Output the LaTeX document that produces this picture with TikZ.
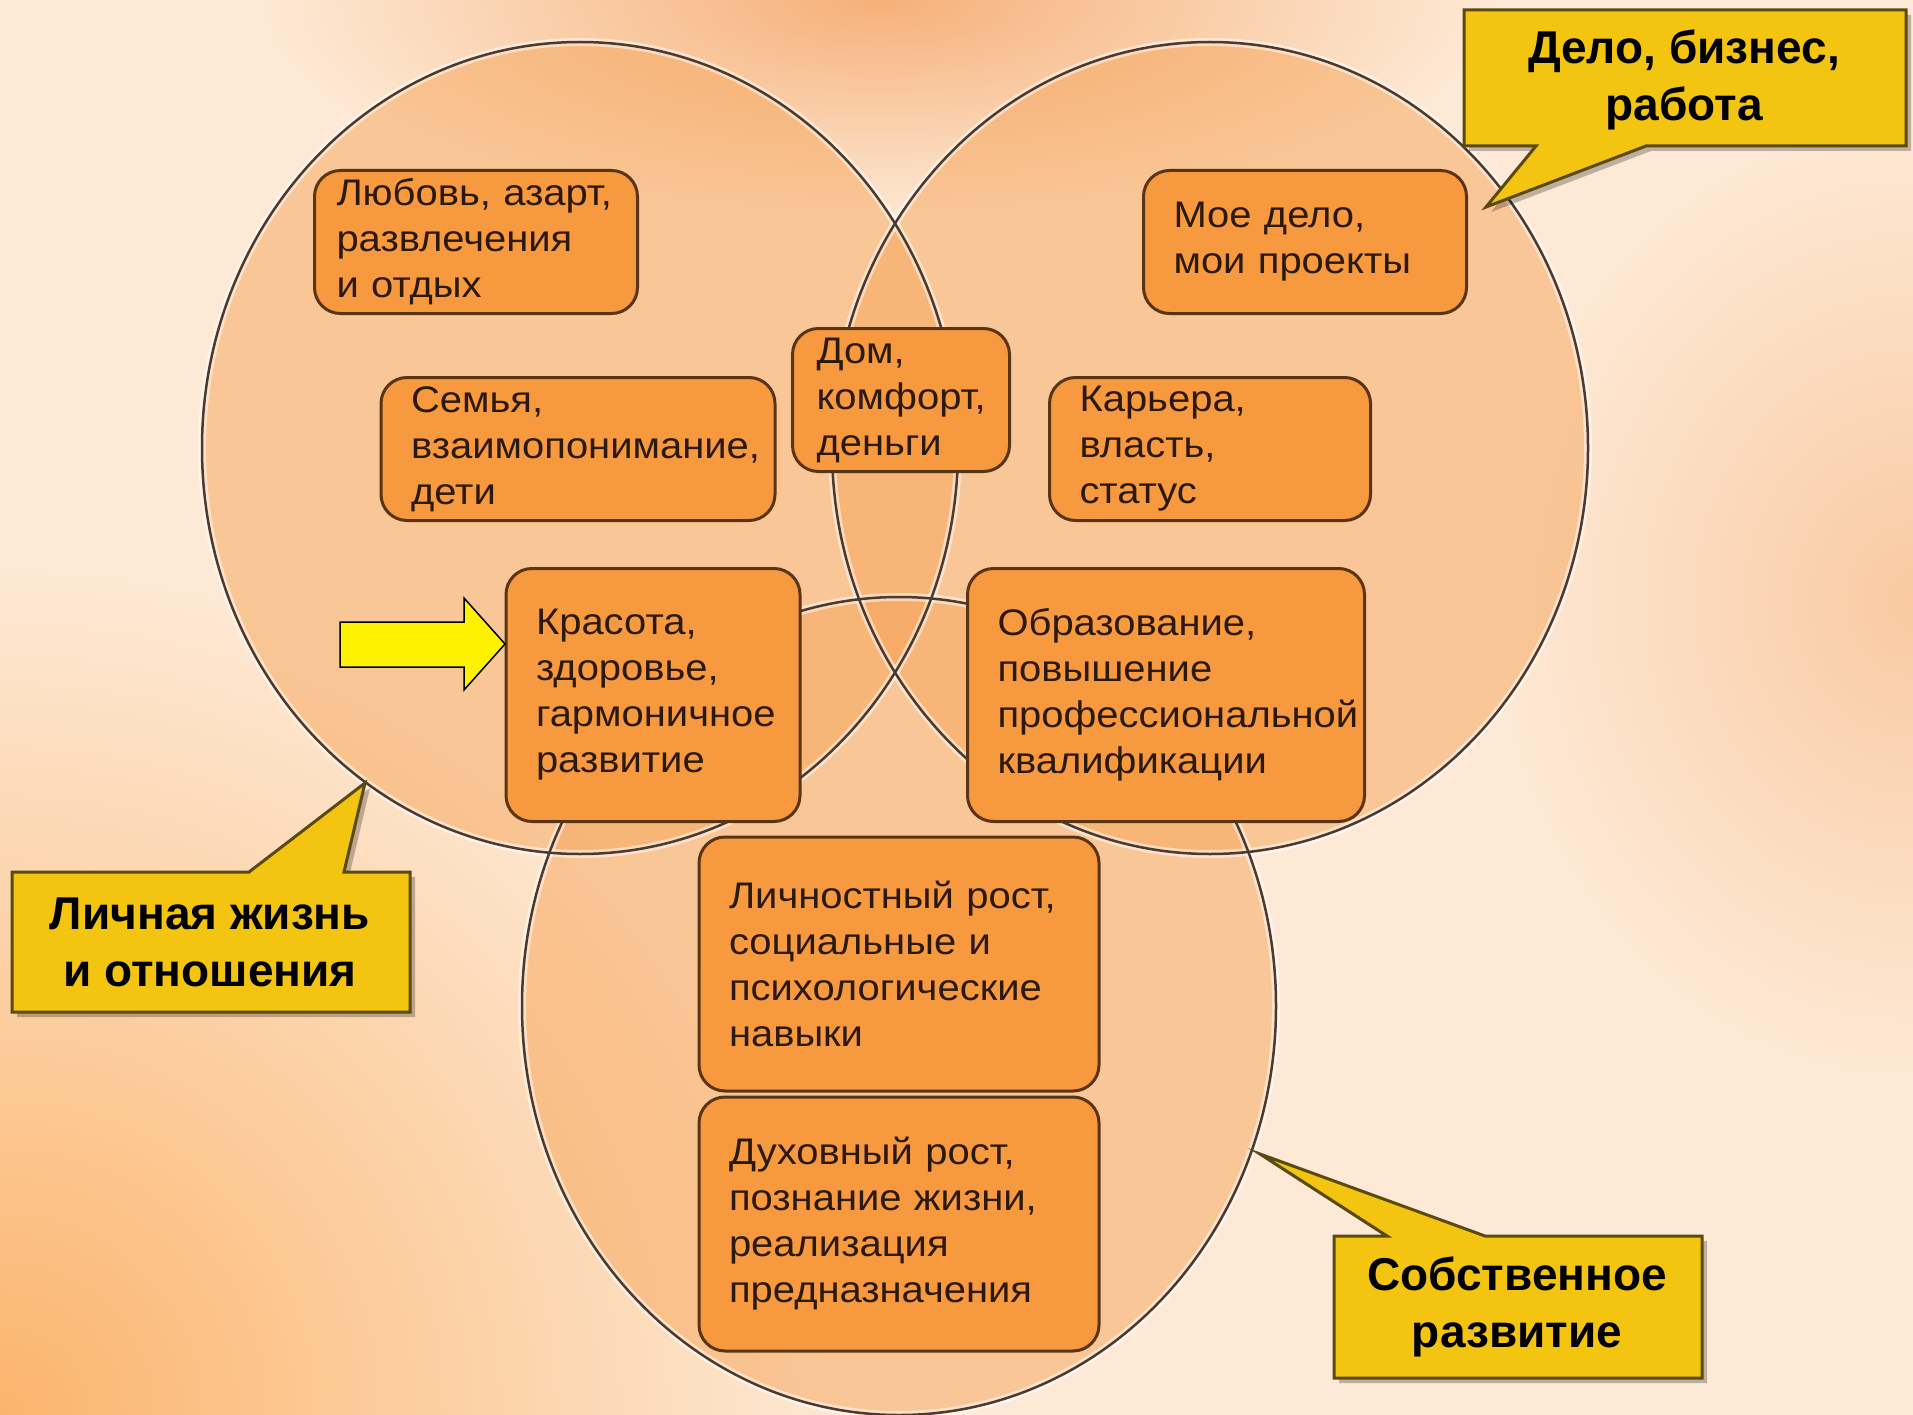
\documentclass[tikz,border=0pt]{standalone}
\usepackage{fontspec}
\setmainfont{Liberation Sans}
\newfontfamily\boxfont[FakeStretch=1.08]{Liberation Sans}
\definecolor{bgcream}{HTML}{FDE9D5}
\definecolor{bgorange}{HTML}{FBB46C}
\definecolor{bgtop}{HTML}{F6B079}
\definecolor{circfill}{HTML}{F6A55A}
\definecolor{circline}{HTML}{4A3A30}
\definecolor{boxfill}{HTML}{F7993F}
\definecolor{boxline}{HTML}{5A3515}
\definecolor{callfill}{HTML}{F3C510}
\definecolor{callline}{HTML}{5A4A12}
\definecolor{boxtext}{HTML}{2B1A0C}
\begin{document}
\begin{tikzpicture}[x=1pt,y=-1pt,
  ibox/.style={draw=boxline, line width=3pt, fill=boxfill, rounded corners=26pt,
    align=left, inner xsep=30pt, inner ysep=0pt,
    font=\boxfont\fontsize{37}{46}\selectfont, text=boxtext},
  callout/.style={draw=callline, line width=3pt, fill=callfill, line join=miter},
  callshadow/.style={fill=black, opacity=0.25},
  calltext/.style={align=center, font=\bfseries\fontsize{46}{57}\selectfont, text=black},
  circ/.style={fill=circfill, fill opacity=0.5},
  circglow/.style={draw=white, opacity=0.5, line width=8pt},
  circedge/.style={draw=circline, line width=2.5pt},
]
\useasboundingbox (0,0) rectangle (1913,1415);
% background
\begin{scope}
\clip (0,0) rectangle (1913,1415);
\fill[bgcream] (0,0) rectangle (1913,1415);
\shade[inner color=bgorange, outer color=bgcream] (0,1415) circle (850);
\shade[inner color=bgtop, outer color=bgcream] (880,0) ellipse (620 and 220);
\shade[inner color=bgtop!55!bgcream, outer color=bgcream] (1913,600) ellipse (420 and 480);
\end{scope}
% circles
\fill[circ] (580,448) ellipse (378 and 406);
\fill[circ] (1210,448) ellipse (378 and 406);
\fill[circ] (899,1006) ellipse (377 and 409);
\path[circglow] (580,448) ellipse (378 and 406);
\path[circglow] (1210,448) ellipse (378 and 406);
\path[circglow] (899,1006) ellipse (377 and 409);
\draw[circedge] (580,448) ellipse (378 and 406);
\draw[circedge] (1210,448) ellipse (378 and 406);
\draw[circedge] (899,1006) ellipse (377 and 409);
% boxes
\node[ibox, inner xsep=22pt, text width=279pt, minimum height=143pt] (love) at (476,242) {Любовь, азарт,\\развлечения\\и отдых};
\node[ibox, text width=334pt, minimum height=143pt] (family) at (578,449) {Семья,\\взаимопонимание,\\дети};
\node[ibox, inner xsep=24pt, text width=169pt, minimum height=143pt] (home) at (901,400) {Дом,\\комфорт,\\деньги};
\node[ibox, text width=263pt, minimum height=143pt] (projects) at (1305,242) {Мое дело,\\мои проекты};
\node[ibox, text width=261pt, minimum height=143pt] (career) at (1210,449) {Карьера,\\власть,\\статус};
\node[ibox, text width=234pt, minimum height=253pt] (beauty) at (653,695) {Красота,\\здоровье,\\гармоничное\\развитие};
\node[ibox, text width=337pt, minimum height=253pt] (edu) at (1166,695) {Образование,\\повышение\\профессиональной\\квалификации};
\node[ibox, text width=340pt, minimum height=254pt] (growth) at (899,964) {Личностный рост,\\социальные и\\психологические\\навыки};
\node[ibox, text width=340pt, minimum height=254pt] (spirit) at (899,1224) {Духовный рост,\\познание жизни,\\реализация\\предназначения};
% callouts
\fill[callshadow, shift={(5,5)}] (1464,10) -- (1906,10) -- (1906,146) -- (1646,146) -- (1486,207) -- (1536,146) -- (1464,146) -- cycle;
\path[callout] (1464,10) -- (1906,10) -- (1906,146) -- (1646,146) -- (1486,207) -- (1536,146) -- (1464,146) -- cycle;
\node[calltext] (biz) at (1684,80) {Дело, бизнес,\\работа};
\fill[callshadow, shift={(5,5)}] (12,872) -- (249,872) -- (365,783) -- (344,872) -- (410,872) -- (410,1012) -- (12,1012) -- cycle;
\path[callout] (12,872) -- (249,872) -- (365,783) -- (344,872) -- (410,872) -- (410,1012) -- (12,1012) -- cycle;
\node[calltext] (life) at (210,942) {Личная жизнь\\и отношения};
\fill[callshadow, shift={(5,5)}] (1334,1236) -- (1387,1236) -- (1260,1154) -- (1485,1236) -- (1702,1236) -- (1702,1378) -- (1334,1378) -- cycle;
\path[callout] (1334,1236) -- (1387,1236) -- (1260,1154) -- (1485,1236) -- (1702,1236) -- (1702,1378) -- (1334,1378) -- cycle;
\node[calltext] (self) at (1517,1307) {Собственное\\развитие};
% yellow arrow
\draw[black, line width=1.5pt, fill=yellow, line join=miter] (340,622) -- (464,622) -- (464,598) -- (505,644) -- (464,690) -- (464,667) -- (340,667) -- cycle;
\end{tikzpicture}
\end{document}
